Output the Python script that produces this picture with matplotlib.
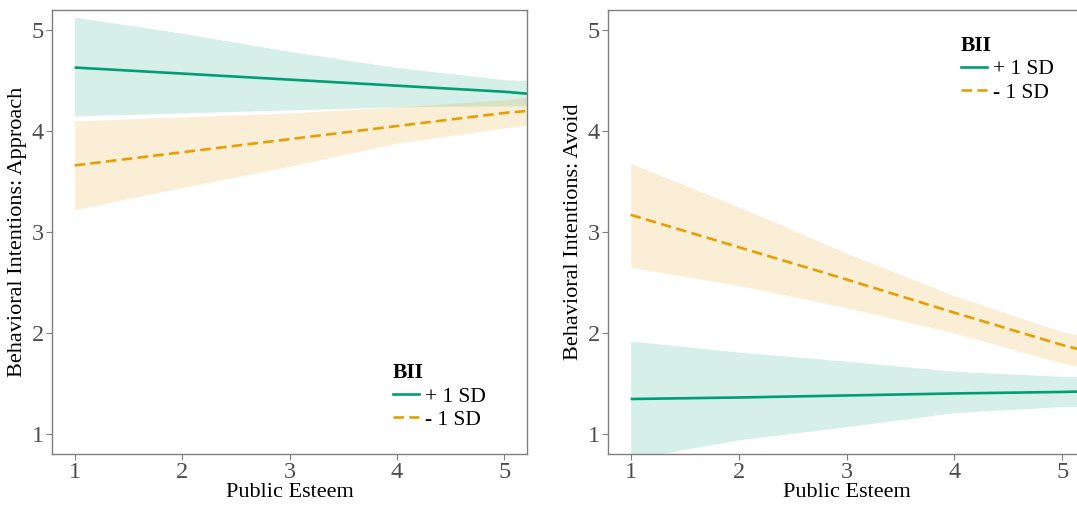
import numpy as np
import matplotlib
matplotlib.use('Agg')
import matplotlib.pyplot as plt
from matplotlib.lines import Line2D

plt.rcParams['font.family'] = ['Liberation Serif', 'DejaVu Serif']

# values, at public esteem 1..5 and the right edge
x = [1, 2, 3, 4, 5, 5.22]

# left panel: approach
app_hi = [4.63, 4.57, 4.51, 4.45, 4.39, 4.37]
app_hi_up = [5.13, 4.97, 4.79, 4.63, 4.51, 4.50]
app_hi_lo = [4.15, 4.18, 4.21, 4.24, 4.25, 4.25]
app_lo = [3.66, 3.79, 3.92, 4.05, 4.18, 4.20]
app_lo_up = [4.10, 4.14, 4.18, 4.24, 4.31, 4.34]
app_lo_lo = [3.22, 3.44, 3.65, 3.88, 4.03, 4.06]

# right panel: avoid
avo_hi = [1.345, 1.36, 1.38, 1.40, 1.415, 1.42]
avo_hi_up = [1.92, 1.81, 1.72, 1.62, 1.57, 1.57]
avo_hi_lo = [0.75, 0.94, 1.07, 1.21, 1.27, 1.27]
avo_lo = [3.17, 2.85, 2.53, 2.20, 1.88, 1.82]
avo_lo_up = [3.68, 3.25, 2.79, 2.37, 2.01, 1.97]
avo_lo_lo = [2.65, 2.47, 2.25, 2.00, 1.70, 1.65]

green = '#009E73'
orange = '#E69F00'
grey = '#7F7F7F'
labels = ['+ 1 SD', '- 1 SD']

fig = plt.figure(figsize=(10.77, 5.05), dpi=100)
ax1 = fig.add_axes([52 / 1077, 51 / 505, 475 / 1077, 444 / 505])
ax2 = fig.add_axes([608 / 1077, 51 / 505, 477 / 1077, 444 / 505])


def panel(ax, hi, hi_up, hi_lo, lo, lo_up, lo_lo, ylab, legloc):
    ax.fill_between(x, hi_lo, hi_up, color=green, alpha=0.16, lw=0)
    ax.fill_between(x, lo_lo, lo_up, color=orange, alpha=0.16, lw=0)
    ax.plot(x, hi, color=green, lw=1.9, solid_capstyle='butt')
    ax.plot(x, lo, color=orange, lw=1.9, ls=(0, (4, 2)), dash_capstyle='butt')
    ax.set_xlim(0.79, 5.21)
    ax.set_ylim(0.8, 5.2)
    ax.set_xticks([1, 2, 3, 4, 5])
    ax.set_yticks([1, 2, 3, 4, 5])
    ax.tick_params(colors=grey, labelcolor='#4D4D4D', labelsize=17.5,
                   length=4, width=0.8, pad=2)
    for s in ax.spines.values():
        s.set_color(grey)
        s.set_linewidth(1.0)
    ax.set_xlabel('Public Esteem', fontsize=16, labelpad=0)
    ax.set_ylabel(ylab, fontsize=16, labelpad=3)
    handles = [Line2D([], [], color=green, lw=1.9),
               Line2D([], [], color=orange, lw=1.9, ls=(0, (4, 2)))]
    leg = ax.legend(handles, labels, title='BII', loc=legloc, frameon=False,
                    fontsize=15.5, handlelength=1.2, handletextpad=0.3,
                    labelspacing=0.15, borderaxespad=0.3)
    leg.get_title().set_fontweight('bold')
    leg.get_title().set_fontsize(15.5)
    leg._legend_box.align = 'left'
    return leg


panel(ax1, app_hi, app_hi_up, app_hi_lo, app_lo, app_lo_up, app_lo_lo,
      'Behavioral Intentions: Approach', (0.7, 0.035))
panel(ax2, avo_hi, avo_hi_up, avo_hi_lo, avo_lo, avo_lo_up, avo_lo_lo,
      'Behavioral Intentions: Avoid', (0.722, 0.772))

fig.savefig('out.png', dpi=100)
